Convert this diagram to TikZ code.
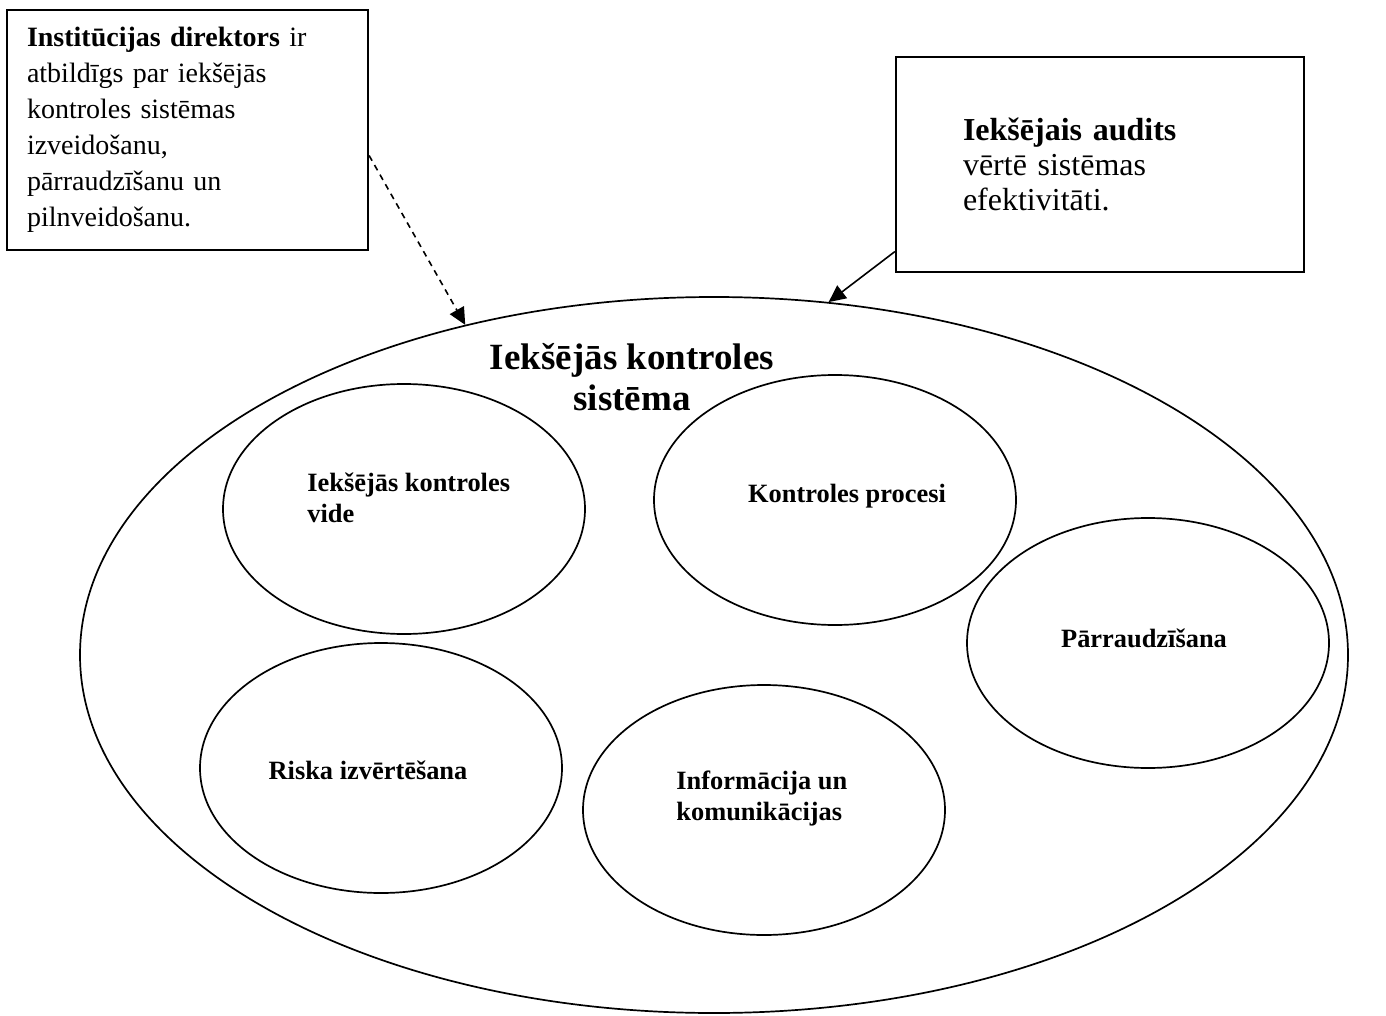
\documentclass[tikz,border=0pt]{standalone}
\usepackage{fontspec}
\setmainfont{Liberation Serif}
\usetikzlibrary{arrows.meta,shapes.geometric}

\begin{document}
\begin{tikzpicture}[x=0.5pt,y=-0.5pt]
\tikzset{
  partnode/.style={ellipse,draw,line width=0.85pt,minimum width=181pt,minimum height=125pt,inner sep=0pt},
  parttext/.style={inner sep=0pt,align=left,font=\fontsize{13.2pt}{15.5pt}\selectfont\bfseries},
  sysnode/.style={ellipse,draw,line width=0.85pt,minimum width=634pt,minimum height=358pt,inner sep=0pt},
  notebox/.style={rectangle,draw,line width=1.1pt,align=left,inner ysep=0pt},
  directed/.style={-{Triangle[length=8.5pt,width=8pt]},line width=0.8pt},
  hinted/.style={directed,dash pattern=on 3pt off 2.5pt}
}
\useasboundingbox (0,0) rectangle (1386,1016);
\node[sysnode] (n_sys) at (714,655) {};
\node[font=\fontsize{18.5pt}{20.5pt}\selectfont\bfseries,align=center] (n_title) at (632,377) {Iekšējās kontroles\\sistēma};
% inner parts
\node[partnode] (n_vide) at (404,509) {};
\node[partnode] (n_proc) at (835,500) {};
\node[partnode] (n_parr) at (1148,643) {};
\node[partnode] (n_risk) at (381,768) {};
\node[partnode] (n_info) at (764,810) {};
\node[parttext,anchor=west] (t_vide) at (307,498) {Iekšējās kontroles\\vide};
\node[parttext] (t_proc) at (847,496) {Kontroles procesi};
\node[parttext] (t_parr) at (1144,638) {Pārraudzīšana};
\node[parttext] (t_risk) at (368,770) {Riska izvērtēšana};
\node[parttext,anchor=west] (t_info) at (676,799) {Informācija un\\komunikācijas};
% notes
\node[notebox,minimum width=180.5pt,minimum height=120pt,inner xsep=10pt,text width=160.5pt,font=\fontsize{14pt}{18pt}\selectfont] (n_dir) at (187.5,130) {\textbf{Institūcijas direktors} ir\\atbildīgs par iekšējās\\kontroles sistēmas\\izveidošanu,\\pārraudzīšanu un\\pilnveidošanu.};
\node[notebox,minimum width=204pt,minimum height=107.5pt,inner xsep=33.5pt,text width=137pt,font=\fontsize{16pt}{17.5pt}\selectfont] (n_aud) at (1100,164.5) {\textbf{Iekšējais audits}\\vērtē sistēmas\\efektivitāti.};
\draw[hinted] (n_dir.352) -- (n_sys.127.3);
\draw[directed] (n_aud.203) -- (n_sys.72.6);
\end{tikzpicture}
\end{document}
